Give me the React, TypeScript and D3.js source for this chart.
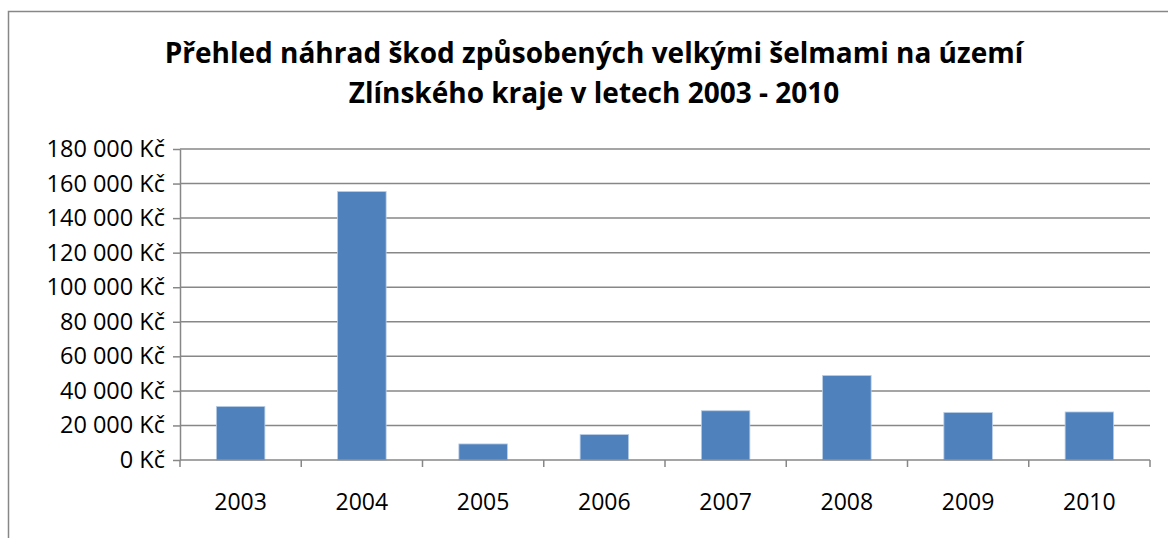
import React, { useEffect, useRef } from 'react';
import * as d3 from 'd3';

const years = ['2003', '2004', '2005', '2006', '2007', '2008', '2009', '2010'];
const damages = [31000, 155400, 9300, 14700, 28500, 48900, 27500, 27800];
const yTicks = [0, 20000, 40000, 60000, 80000, 100000, 120000, 140000, 160000, 180000];
const titleLines = [
  'Přehled náhrad škod způsobených velkými šelmami na území',
  'Zlínského kraje v letech 2003 - 2010',
];

const W = 1168;
const H = 538;
const FONT = '"Open Sans", sans-serif';

function App() {
  const ref = useRef<SVGSVGElement>(null);

  useEffect(() => {
    const svg = d3.select(ref.current);
    svg.selectAll('*').remove();
    const margin = { top: 149, right: 18, bottom: 78, left: 180 };
    const width = W - margin.left - margin.right;
    const height = H - margin.top - margin.bottom;

    // chart area border (cut off at right and bottom like the original)
    svg.append('rect')
      .attr('x', 8.5).attr('y', 11.5)
      .attr('width', W + 20).attr('height', H + 20)
      .attr('fill', 'white')
      .attr('stroke', '#878787')
      .attr('stroke-width', 1.5);

    svg.append('g')
      .selectAll('text')
      .data(titleLines)
      .join('text')
      .attr('x', 594)
      .attr('y', (d, i) => 63 + i * 40)
      .attr('text-anchor', 'middle')
      .attr('font-family', FONT)
      .attr('font-weight', 'bold')
      .attr('font-size', 28)
      .attr('fill', '#000')
      .text(d => d);

    const g = svg.append('g')
      .attr('transform', 'translate(' + margin.left + ',' + margin.top + ')');

    const x = d3.scaleBand()
      .domain(years)
      .range([0, width])
      .paddingInner(0.6)
      .paddingOuter(0.3);

    const y = d3.scaleLinear()
      .domain([0, 180000])
      .range([height, 0]);

    // gridlines
    g.append('g')
      .selectAll('line')
      .data(yTicks.slice(1))
      .join('line')
      .attr('x1', 0).attr('x2', width)
      .attr('y1', d => y(d)).attr('y2', d => y(d))
      .attr('stroke', '#878787')
      .attr('stroke-width', 1.5);

    const fmt = (d: number) => d3.format(',')(d).replace(/,/g, ' ') + ' Kč';

    const yAxis = g.append('g')
      .call(d3.axisLeft(y).tickValues(yTicks).tickSize(7).tickSizeOuter(0).tickPadding(8).tickFormat(fmt as any));
    yAxis.select('.domain').attr('stroke', '#878787').attr('stroke-width', 1.5);
    yAxis.selectAll('.tick line').attr('stroke', '#878787').attr('stroke-width', 1.5);
    yAxis.selectAll('.tick text')
      .attr('font-family', FONT)
      .attr('font-size', 23.5)
      .attr('fill', '#000');

    // bars
    g.append('g')
      .selectAll('rect')
      .data(damages)
      .join('rect')
      .attr('x', (d, i) => x(years[i]) as number)
      .attr('y', d => y(d))
      .attr('width', x.bandwidth())
      .attr('height', d => height - y(d))
      .attr('fill', '#4f81bd')
      .attr('stroke', '#b9cde5')
      .attr('stroke-width', 0.8);

    // x axis with boundary ticks
    const step = x.step();
    const xa = g.append('g').attr('transform', 'translate(0,' + height + ')');
    xa.append('line')
      .attr('x1', 0).attr('x2', width)
      .attr('stroke', '#878787')
      .attr('stroke-width', 1.5);
    xa.selectAll('line.tk')
      .data(d3.range(years.length + 1))
      .join('line')
      .attr('class', 'tk')
      .attr('x1', i => i * step).attr('x2', i => i * step)
      .attr('y1', 0).attr('y2', 7)
      .attr('stroke', '#878787')
      .attr('stroke-width', 1.5);
    xa.selectAll('text')
      .data(years)
      .join('text')
      .attr('x', d => (x(d) as number) + x.bandwidth() / 2)
      .attr('y', 50)
      .attr('text-anchor', 'middle')
      .attr('font-family', FONT)
      .attr('font-size', 23)
      .attr('fill', '#000')
      .text(d => d);
  }, []);

  return (
    <svg ref={ref} width={W} height={H} style={{ position: 'fixed', left: 0, top: 0, background: 'white' }} />
  );
}

export default App;
